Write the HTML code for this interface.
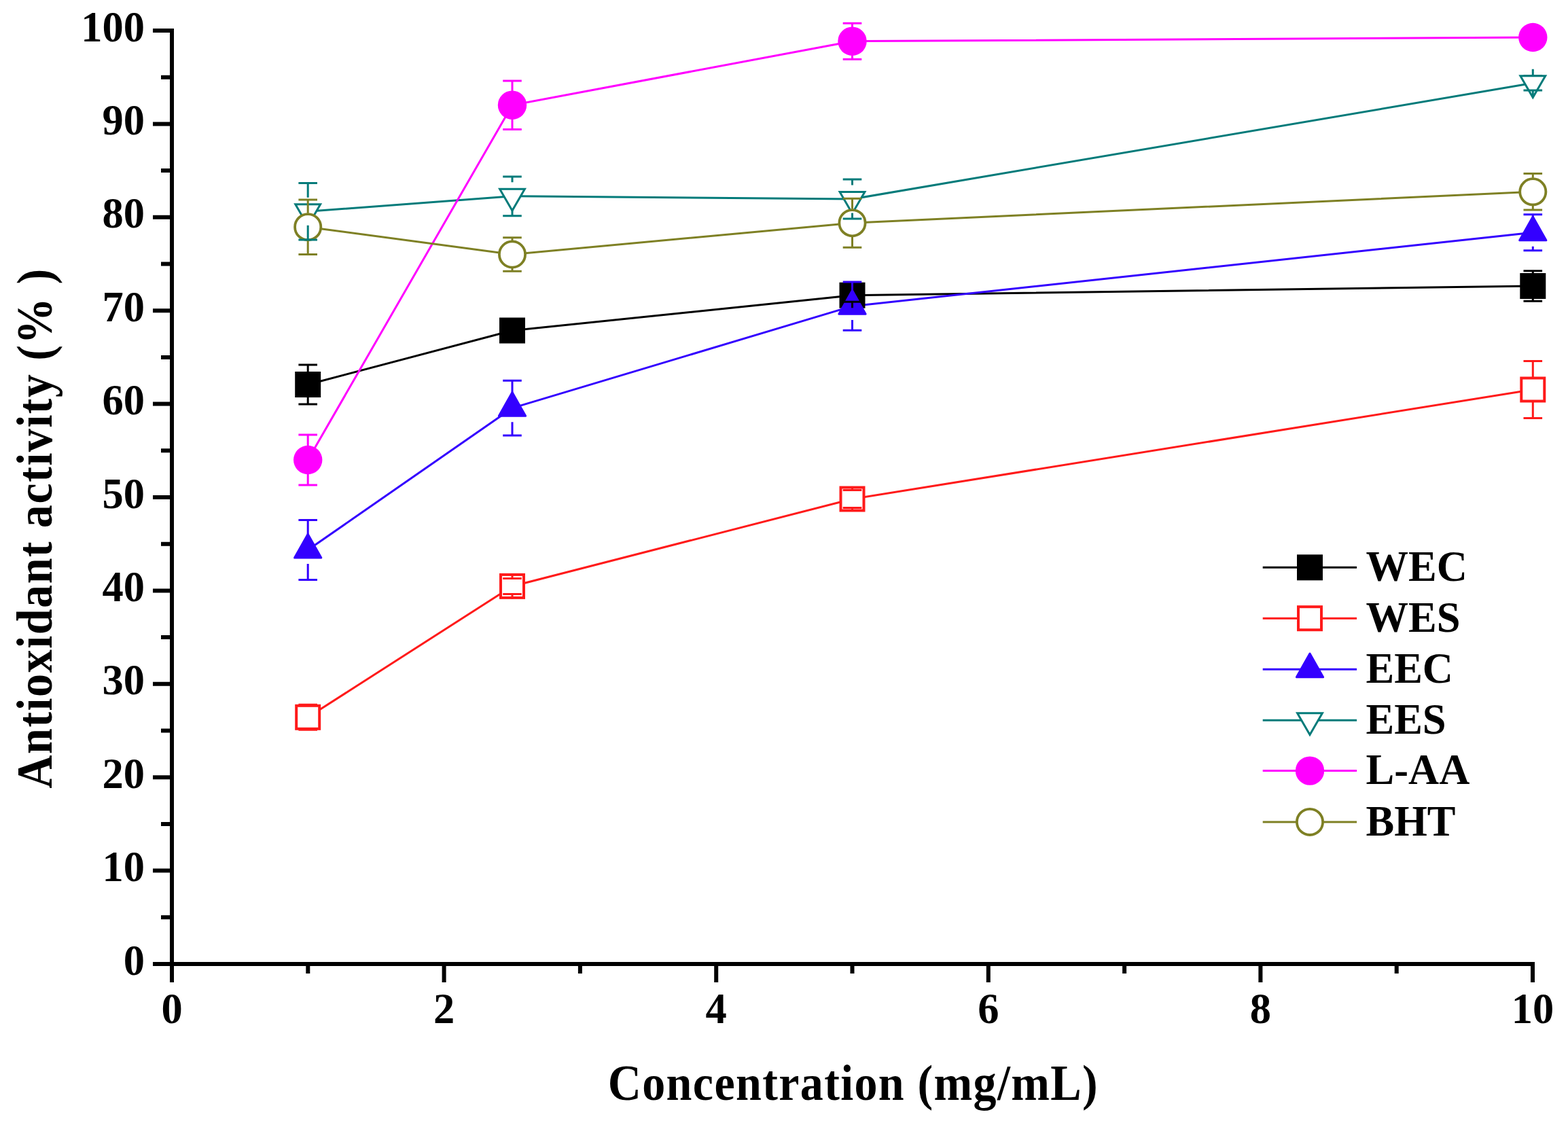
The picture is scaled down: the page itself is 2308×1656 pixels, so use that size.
<!DOCTYPE html>
<html><head><meta charset="utf-8"><title>Antioxidant activity</title>
<style>html,body{margin:0;padding:0;background:#fff;overflow:hidden;}svg{display:block;}</style>
</head><body>
<svg width="2308" height="1656" viewBox="0 0 2308 1656">
<rect width="2308" height="1656" fill="#fff"/>
<path d="M253.0 42V1422.0M250.0 1419.0H2259M225 1419.00H253.0M237 1350.30H253.0M225 1281.60H253.0M237 1212.90H253.0M225 1144.20H253.0M237 1075.50H253.0M225 1006.80H253.0M237 938.10H253.0M225 869.40H253.0M237 800.70H253.0M225 732.00H253.0M237 663.30H253.0M225 594.60H253.0M237 525.90H253.0M225 457.20H253.0M237 388.50H253.0M225 319.80H253.0M237 251.10H253.0M225 182.40H253.0M237 113.70H253.0M225 45.00H253.0M253.00 1419.0V1446M453.30 1419.0V1433M653.60 1419.0V1446M853.90 1419.0V1433M1054.20 1419.0V1446M1254.50 1419.0V1433M1454.80 1419.0V1446M1655.10 1419.0V1433M1855.40 1419.0V1446M2055.70 1419.0V1433M2256.00 1419.0V1446" stroke="#000" stroke-width="6.0" fill="none"/>
<g font-family="Liberation Serif, serif" font-weight="bold" font-size="62.5" fill="#000">
<text x="213" y="1434.50" text-anchor="end">0</text>
<text x="213" y="1297.10" text-anchor="end">10</text>
<text x="213" y="1159.70" text-anchor="end">20</text>
<text x="213" y="1022.30" text-anchor="end">30</text>
<text x="213" y="884.90" text-anchor="end">40</text>
<text x="213" y="747.50" text-anchor="end">50</text>
<text x="213" y="610.10" text-anchor="end">60</text>
<text x="213" y="472.70" text-anchor="end">70</text>
<text x="213" y="335.30" text-anchor="end">80</text>
<text x="213" y="197.90" text-anchor="end">90</text>
<text x="213" y="60.50" text-anchor="end">100</text>
<text x="253.00" y="1506" text-anchor="middle">0</text>
<text x="653.60" y="1506" text-anchor="middle">2</text>
<text x="1054.20" y="1506" text-anchor="middle">4</text>
<text x="1454.80" y="1506" text-anchor="middle">6</text>
<text x="1855.40" y="1506" text-anchor="middle">8</text>
<text x="2256.00" y="1506" text-anchor="middle">10</text>
</g>
<text transform="translate(1255.2 1618.7) scale(0.92 1)" x="0" y="0" text-anchor="middle" textLength="783.7" lengthAdjust="spacing" font-family="Liberation Serif, serif" font-weight="bold" font-size="74">Concentration (mg/mL)</text>
<text transform="translate(76 778.2) rotate(-90) scale(0.92 1)" x="0" y="0" text-anchor="middle" textLength="831.5" lengthAdjust="spacing" font-family="Liberation Serif, serif" font-weight="bold" font-size="74">Antioxidant activity (% )</text>
<path d="M453.20 566.00 L754.00 486.50 L1254.50 434.70 L2256.30 421.00" stroke="#000000" stroke-width="3.0" fill="none" stroke-linejoin="round"/>
<path d="M453.20 1055.80 L754.00 862.90 L1254.50 734.50 L2256.30 573.50" stroke="#ff1a1a" stroke-width="3.0" fill="none" stroke-linejoin="round"/>
<path d="M453.20 809.50 L754.00 600.70 L1254.50 450.60 L2256.30 342.20" stroke="#3300ff" stroke-width="3.0" fill="none" stroke-linejoin="round"/>
<path d="M453.20 311.35 L754.00 288.80 L1254.50 293.00 L2256.30 122.30" stroke="#037b7a" stroke-width="3.0" fill="none" stroke-linejoin="round"/>
<path d="M453.20 677.00 L754.00 154.70 L1254.50 60.70 L2256.30 55.00" stroke="#ff00ff" stroke-width="3.0" fill="none" stroke-linejoin="round"/>
<path d="M453.20 334.20 L754.00 374.50 L1254.50 328.20 L2256.30 282.30" stroke="#7e8024" stroke-width="3.0" fill="none" stroke-linejoin="round"/>
<rect x="434.20" y="547.00" width="38" height="38" fill="#000000"/>
<rect x="735.00" y="467.50" width="38" height="38" fill="#000000"/>
<rect x="1235.50" y="415.70" width="38" height="38" fill="#000000"/>
<rect x="2237.30" y="402.00" width="38" height="38" fill="#000000"/>
<rect x="436.20" y="1038.80" width="34" height="34" fill="#fff" stroke="#ff1a1a" stroke-width="4"/>
<rect x="737.00" y="845.90" width="34" height="34" fill="#fff" stroke="#ff1a1a" stroke-width="4"/>
<rect x="1237.50" y="717.50" width="34" height="34" fill="#fff" stroke="#ff1a1a" stroke-width="4"/>
<rect x="2239.30" y="556.50" width="34" height="34" fill="#fff" stroke="#ff1a1a" stroke-width="4"/>
<polygon points="453.20,786.30 433.60,821.10 472.80,821.10" fill="#3300ff" stroke="#3300ff" stroke-width="3" stroke-linejoin="round"/>
<polygon points="754.00,577.50 734.40,612.30 773.60,612.30" fill="#3300ff" stroke="#3300ff" stroke-width="3" stroke-linejoin="round"/>
<polygon points="1254.50,427.40 1234.90,462.20 1274.10,462.20" fill="#3300ff" stroke="#3300ff" stroke-width="3" stroke-linejoin="round"/>
<polygon points="2256.30,319.00 2236.70,353.80 2275.90,353.80" fill="#3300ff" stroke="#3300ff" stroke-width="3" stroke-linejoin="round"/>
<polygon points="434.80,300.75 471.60,300.75 453.20,332.55" fill="#fff" stroke="#037b7a" stroke-width="3"/>
<polygon points="735.60,278.20 772.40,278.20 754.00,310.00" fill="#fff" stroke="#037b7a" stroke-width="3"/>
<polygon points="1236.10,282.40 1272.90,282.40 1254.50,314.20" fill="#fff" stroke="#037b7a" stroke-width="3"/>
<polygon points="2237.90,111.70 2274.70,111.70 2256.30,143.50" fill="#fff" stroke="#037b7a" stroke-width="3"/>
<circle cx="453.20" cy="677.00" r="21.2" fill="#ff00ff"/>
<circle cx="754.00" cy="154.70" r="21.2" fill="#ff00ff"/>
<circle cx="1254.50" cy="60.70" r="21.2" fill="#ff00ff"/>
<circle cx="2256.30" cy="55.00" r="21.2" fill="#ff00ff"/>
<circle cx="453.20" cy="334.20" r="19.1" fill="#fff" stroke="#7e8024" stroke-width="3.8"/>
<circle cx="754.00" cy="374.50" r="19.1" fill="#fff" stroke="#7e8024" stroke-width="3.8"/>
<circle cx="1254.50" cy="328.20" r="19.1" fill="#fff" stroke="#7e8024" stroke-width="3.8"/>
<circle cx="2256.30" cy="282.30" r="19.1" fill="#fff" stroke="#7e8024" stroke-width="3.8"/>
<path d="M439.40 537.00H467.00M439.40 595.00H467.00M453.20 537.00V547.50M453.20 595.00V584.50" stroke="#000000" stroke-width="3.0" fill="none"/>
<path d="M740.20 476.50H767.80M740.20 496.50H767.80M754.00 476.50V468.00M754.00 496.50V505.00" stroke="#000000" stroke-width="3.0" fill="none"/>
<path d="M1240.70 425.20H1268.30M1240.70 444.20H1268.30M1254.50 425.20V416.20M1254.50 444.20V453.20" stroke="#000000" stroke-width="3.0" fill="none"/>
<path d="M2242.50 398.70H2270.10M2242.50 443.30H2270.10M2256.30 398.70V402.50M2256.30 443.30V439.50" stroke="#000000" stroke-width="3.0" fill="none"/>
<path d="M439.40 1037.30H467.00M439.40 1074.30H467.00M453.20 1037.30V1037.30M453.20 1074.30V1074.30" stroke="#ff1a1a" stroke-width="3.0" fill="none"/>
<path d="M740.20 851.40H767.80M740.20 874.40H767.80M754.00 851.40V844.40M754.00 874.40V881.40" stroke="#ff1a1a" stroke-width="3.0" fill="none"/>
<path d="M1240.70 721.50H1268.30M1240.70 747.50H1268.30M1254.50 721.50V716.00M1254.50 747.50V753.00" stroke="#ff1a1a" stroke-width="3.0" fill="none"/>
<path d="M2242.50 531.50H2270.10M2242.50 615.50H2270.10M2256.30 531.50V555.00M2256.30 615.50V592.00" stroke="#ff1a1a" stroke-width="3.0" fill="none"/>
<path d="M439.40 765.40H467.00M439.40 853.60H467.00M453.20 765.40V789.00M453.20 853.60V830.00" stroke="#3300ff" stroke-width="3.0" fill="none"/>
<path d="M740.20 560.30H767.80M740.20 641.10H767.80M754.00 560.30V580.20M754.00 641.10V621.20" stroke="#3300ff" stroke-width="3.0" fill="none"/>
<path d="M1240.70 415.00H1268.30M1240.70 486.20H1268.30M1254.50 415.00V430.10M1254.50 486.20V471.10" stroke="#3300ff" stroke-width="3.0" fill="none"/>
<path d="M2242.50 315.70H2270.10M2242.50 368.70H2270.10M2256.30 315.70V321.70M2256.30 368.70V362.70" stroke="#3300ff" stroke-width="3.0" fill="none"/>
<path d="M439.40 269.60H467.00M439.40 353.10H467.00M453.20 269.60V290.85M453.20 353.10V331.85" stroke="#037b7a" stroke-width="3.0" fill="none"/>
<path d="M740.20 259.90H767.80M740.20 317.70H767.80M754.00 259.90V268.30M754.00 317.70V309.30" stroke="#037b7a" stroke-width="3.0" fill="none"/>
<path d="M1240.70 264.00H1268.30M1240.70 322.00H1268.30M1254.50 264.00V272.50M1254.50 322.00V313.50" stroke="#037b7a" stroke-width="3.0" fill="none"/>
<path d="M2242.50 111.50H2270.10M2242.50 133.10H2270.10M2256.30 111.50V101.80M2256.30 133.10V142.80" stroke="#037b7a" stroke-width="3.0" fill="none"/>
<path d="M439.40 640.10H467.00M439.40 713.90H467.00M453.20 640.10V656.50M453.20 713.90V697.50" stroke="#ff00ff" stroke-width="3.0" fill="none"/>
<path d="M740.20 119.00H767.80M740.20 190.40H767.80M754.00 119.00V134.20M754.00 190.40V175.20" stroke="#ff00ff" stroke-width="3.0" fill="none"/>
<path d="M1240.70 34.20H1268.30M1240.70 87.20H1268.30M1254.50 34.20V40.20M1254.50 87.20V81.20" stroke="#ff00ff" stroke-width="3.0" fill="none"/>
<path d="M2242.50 50.00H2270.10M2242.50 60.00H2270.10M2256.30 50.00V34.50M2256.30 60.00V75.50" stroke="#ff00ff" stroke-width="3.0" fill="none"/>
<path d="M439.40 294.00H467.00M439.40 374.40H467.00M453.20 294.00V313.70M453.20 374.40V354.70" stroke="#7e8024" stroke-width="3.0" fill="none"/>
<path d="M740.20 349.70H767.80M740.20 399.30H767.80M754.00 349.70V354.00M754.00 399.30V395.00" stroke="#7e8024" stroke-width="3.0" fill="none"/>
<path d="M1240.70 292.20H1268.30M1240.70 364.20H1268.30M1254.50 292.20V307.70M1254.50 364.20V348.70" stroke="#7e8024" stroke-width="3.0" fill="none"/>
<path d="M2242.50 255.50H2270.10M2242.50 309.10H2270.10M2256.30 255.50V261.80M2256.30 309.10V302.80" stroke="#7e8024" stroke-width="3.0" fill="none"/>
<path d="M1858.7 835.30H1997.1" stroke="#000000" stroke-width="3.0"/>
<rect x="1909.00" y="816.30" width="38" height="38" fill="#000000"/>
<text x="2010.5" y="854.90" font-family="Liberation Serif, serif" font-weight="bold" font-size="62.5">WEC</text>
<path d="M1858.7 910.20H1997.1" stroke="#ff1a1a" stroke-width="3.0"/>
<rect x="1911.00" y="893.20" width="34" height="34" fill="#fff" stroke="#ff1a1a" stroke-width="4"/>
<text x="2010.5" y="929.80" font-family="Liberation Serif, serif" font-weight="bold" font-size="62.5">WES</text>
<path d="M1858.7 985.20H1997.1" stroke="#3300ff" stroke-width="3.0"/>
<polygon points="1928.00,962.00 1908.40,996.80 1947.60,996.80" fill="#3300ff" stroke="#3300ff" stroke-width="3" stroke-linejoin="round"/>
<text x="2010.5" y="1004.80" font-family="Liberation Serif, serif" font-weight="bold" font-size="62.5">EEC</text>
<path d="M1858.7 1060.30H1997.1" stroke="#037b7a" stroke-width="3.0"/>
<polygon points="1909.60,1049.70 1946.40,1049.70 1928.00,1081.50" fill="#fff" stroke="#037b7a" stroke-width="3"/>
<text x="2010.5" y="1079.90" font-family="Liberation Serif, serif" font-weight="bold" font-size="62.5">EES</text>
<path d="M1858.7 1134.60H1997.1" stroke="#ff00ff" stroke-width="3.0"/>
<circle cx="1928.00" cy="1134.60" r="21.2" fill="#ff00ff"/>
<text x="2010.5" y="1154.20" font-family="Liberation Serif, serif" font-weight="bold" font-size="62.5">L-AA</text>
<path d="M1858.7 1209.90H1997.1" stroke="#7e8024" stroke-width="3.0"/>
<circle cx="1928.00" cy="1209.90" r="19.1" fill="#fff" stroke="#7e8024" stroke-width="3.8"/>
<text x="2010.5" y="1229.50" font-family="Liberation Serif, serif" font-weight="bold" font-size="62.5">BHT</text>
</svg>
</body></html>
